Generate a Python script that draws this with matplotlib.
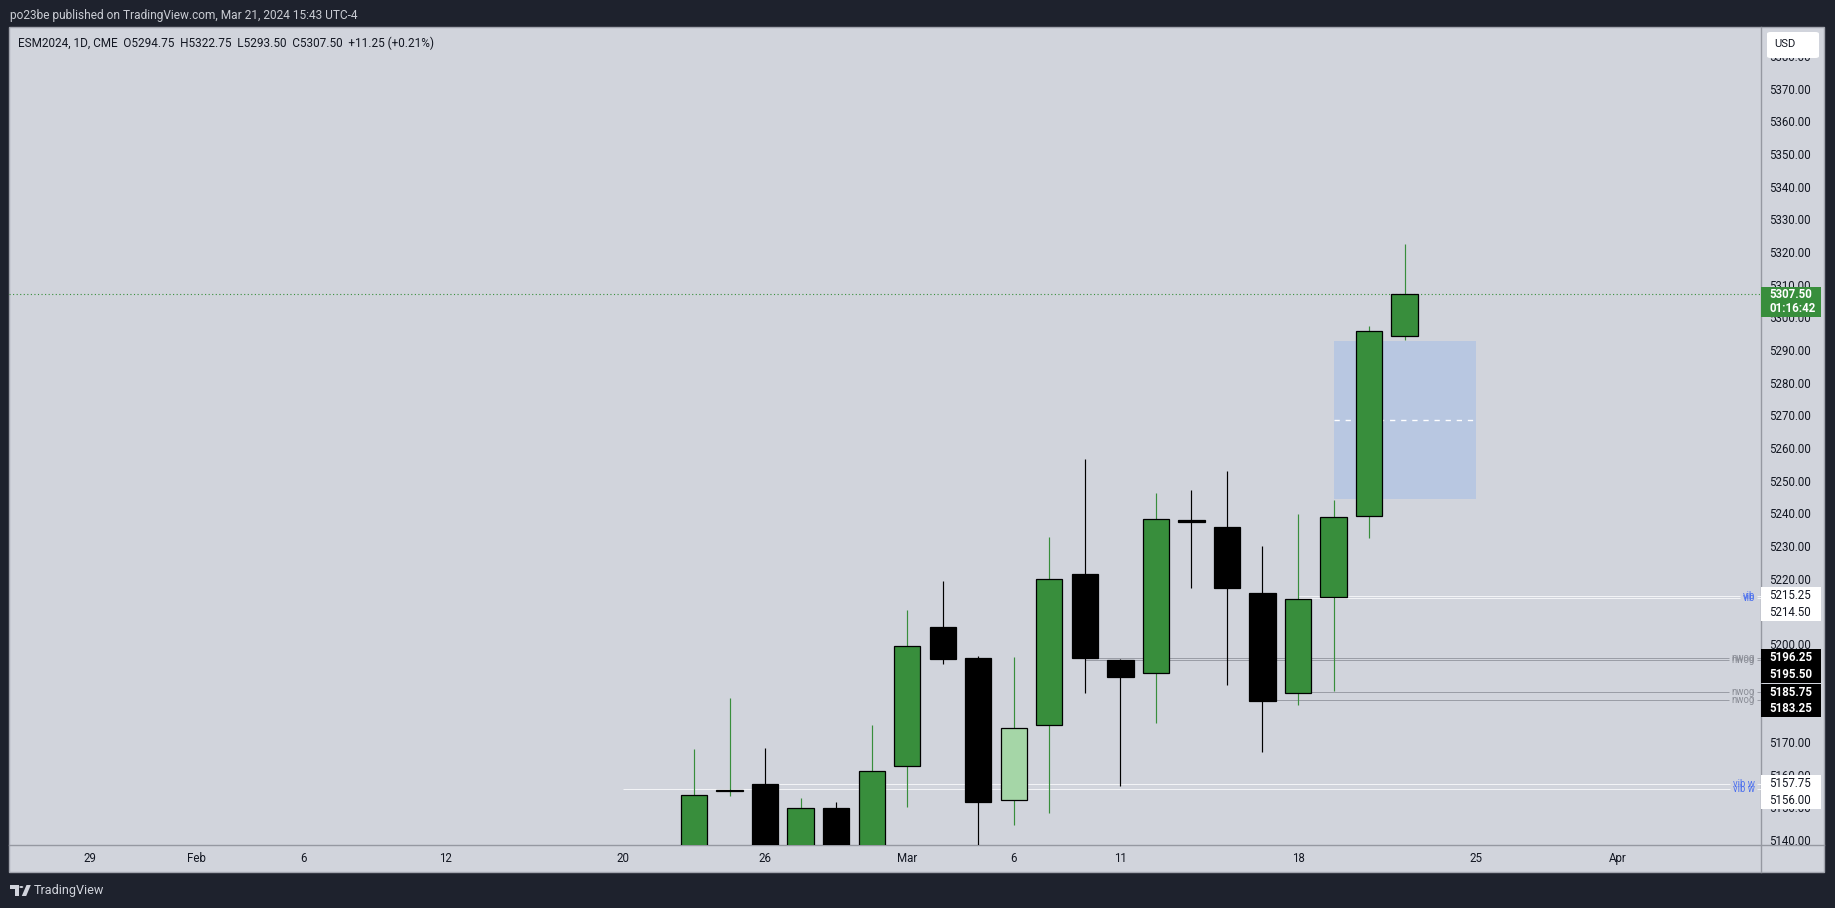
import matplotlib
matplotlib.use("Agg")
import matplotlib.pyplot as plt
from matplotlib.patches import Rectangle, FancyBboxPatch, Polygon, Circle
from matplotlib.lines import Line2D
import pandas as pd

# ---------------- data ----------------
dates = ["2024-02-22", "2024-02-23", "2024-02-26", "2024-02-27", "2024-02-28", "2024-02-29",
         "2024-03-01", "2024-03-04", "2024-03-05", "2024-03-06", "2024-03-07", "2024-03-08",
         "2024-03-11", "2024-03-12", "2024-03-13", "2024-03-14", "2024-03-15", "2024-03-18",
         "2024-03-19", "2024-03-20", "2024-03-21"]
opens = [5128.00, 5155.50, 5157.75, 5132.00, 5150.25, 5133.00,
         5163.25, 5205.75, 5196.25, 5152.75, 5175.75, 5221.75,
         5195.50, 5191.50, 5238.50, 5236.25, 5216.00, 5185.50,
         5215.00, 5239.50, 5294.75]
highs = [5168.50, 5184.00, 5168.75, 5153.50, 5152.25, 5175.75,
         5211.00, 5219.75, 5196.75, 5196.50, 5233.25, 5257.00,
         5196.00, 5246.75, 5247.50, 5253.50, 5230.50, 5240.25,
         5244.50, 5297.75, 5322.75]
lows = [5120.00, 5154.00, 5125.00, 5128.00, 5126.00, 5128.00,
        5150.50, 5194.25, 5120.00, 5145.00, 5148.75, 5185.50,
        5157.00, 5176.25, 5217.50, 5188.00, 5167.50, 5181.75,
        5186.00, 5233.00, 5293.50]
closes = [5154.25, 5155.75, 5130.00, 5150.25, 5133.00, 5161.50,
          5200.00, 5196.00, 5152.00, 5174.75, 5220.25, 5196.25,
          5190.50, 5238.75, 5237.75, 5217.50, 5183.00, 5214.25,
          5239.25, 5296.25, 5307.50]
highlight_dates = ["2024-03-06"]

level_prices = [5215.25, 5214.50, 5196.25, 5195.50, 5185.75, 5183.25, 5157.75, 5156.00]
level_tags = ["vib", "vib", "nwog", "nwog", "nwog", "nwog", "vib w", "vib w"]
level_from = ["2024-03-18", "2024-03-18", "2024-03-08", "2024-03-08",
              "2024-03-18", "2024-03-15", "2024-02-26", "2024-02-20"]

zone_from, zone_to = "2024-03-19", "2024-03-25"
zone_top, zone_bottom = 5293.25, 5244.75

last_price = 5307.50
countdown = "01:16:42"

price_ticks = list(range(5140, 5390, 10))
time_tick_dates = ["2024-01-29", "2024-02-01", "2024-02-06", "2024-02-12", "2024-02-20", "2024-02-26",
                   "2024-03-01", "2024-03-06", "2024-03-11", "2024-03-18", "2024-03-25", "2024-04-01"]
time_tick_labels = ["29", "Feb", "6", "12", "20", "26", "Mar", "6", "11", "18", "25", "Apr"]
holidays = ["2024-02-19", "2024-03-29"]

title = "po23be published on TradingView.com, Mar 21, 2024 15:43 UTC-4"
legend = "ESM2024, 1D, CME  O5294.75  H5322.75  L5293.50  C5307.50  +11.25 (+0.21%)"

# ---------------- styling ----------------
plt.rcParams['font.family'] = ['Roboto', 'DejaVu Sans']
W, H = 1835, 908
DARK = '#1e222d'
PANEL = '#d1d4dc'
GREEN = '#388e3c'
LIGHTGREEN = '#a5d6a7'
TXT = '#131722'
SEP = '#9598a1'
BLUE = '#4f72ee'
GRAY = '#8a8d96'

fig = plt.figure(figsize=(W / 100, H / 100), dpi=100, facecolor=DARK)
renderer = fig.canvas.get_renderer()


def fx(px):
    return px / W


def fy(py):
    return 1 - py / H


# trading calendar -> bar index
sessions = [d for d in pd.bdate_range("2024-01-22", "2024-04-19").strftime("%Y-%m-%d") if d not in holidays]
base = sessions.index("2024-01-29")
pos = {d: i - base for i, d in enumerate(sessions)}

PX_PER_BAR = 35.53
X0 = 90.0  # pixel of first labelled bar
xl = ((9 - X0) / PX_PER_BAR, (1761 - X0) / PX_PER_BAR)
PX_PER_PT = 3.268
yl = (5370 - (845 - 90) / PX_PER_PT, 5370 + (90 - 27) / PX_PER_PT)

# panel background
fig.patches.append(Rectangle((fx(9), fy(872)), fx(1824) - fx(9), fy(27) - fy(872),
                             transform=fig.transFigure, facecolor=PANEL, edgecolor='#a3a6af',
                             linewidth=1.0, zorder=-5))

ax = fig.add_axes([fx(9), fy(845), fx(1761) - fx(9), fy(27) - fy(845)])
pax = fig.add_axes([fx(1761), fy(845), fx(1824) - fx(1761), fy(27) - fy(845)])
tax = fig.add_axes([fx(9), fy(872), fx(1761) - fx(9), fy(845) - fy(872)])
for a in (ax, pax, tax):
    a.set_facecolor('none')
    a.set_xticks([])
    a.set_yticks([])
    for s in a.spines.values():
        s.set_visible(False)
ax.set_xlim(*xl)
ax.set_ylim(*yl)
pax.set_xlim(0, 1)
pax.set_ylim(*yl)
tax.set_xlim(*xl)
tax.set_ylim(0, 1)

# separators
fig.lines.append(Line2D([fx(9), fx(1824)], [fy(845), fy(845)], transform=fig.transFigure,
                        color=SEP, lw=1.0, zorder=-1))
fig.lines.append(Line2D([fx(1761), fx(1761)], [fy(27), fy(872)], transform=fig.transFigure,
                        color=SEP, lw=1.0, zorder=-1))

# zone
zx0, zx1 = pos[zone_from], pos[zone_to]
ax.add_patch(Rectangle((zx0, zone_bottom), zx1 - zx0, zone_top - zone_bottom,
                       facecolor='#b8c7e1', edgecolor='none', zorder=1))
ax.plot([zx0, zx1], [(zone_top + zone_bottom) / 2] * 2, color='white', lw=1.0,
        dashes=(3.8, 4.2), zorder=1.5)

# level lines, broken around their right-hand tag
LABEL_RIGHT_PX = 1755 - 9   # pixel offset inside the plot area
for p, tag, d in zip(level_prices, level_tags, level_from):
    is_vib = tag.startswith('vib')
    lc = '#f2f3f6' if is_vib else '#9a9da6'
    t = ax.text(LABEL_RIGHT_PX / 1752, p, tag, transform=ax.get_yaxis_transform(), ha='right',
                va='center', fontsize=6.9, color=(BLUE if is_vib else GRAY), zorder=2.5)
    wpx = t.get_window_extent(renderer=renderer).width
    x_gap_left = xl[0] + (LABEL_RIGHT_PX - wpx - 3) / PX_PER_BAR
    x_gap_right = xl[0] + (LABEL_RIGHT_PX + 2) / PX_PER_BAR
    ax.plot([pos[d], x_gap_left], [p, p], color=lc, lw=0.72, zorder=2, solid_capstyle='butt')
    ax.plot([x_gap_right, xl[1]], [p, p], color=lc, lw=0.72, zorder=2, solid_capstyle='butt')

# last price dotted
ax.plot([xl[0], xl[1]], [last_price, last_price], color=GREEN, lw=0.8,
        linestyle=(0, (1, 2.2)), zorder=2)

# candles
for d, o, h, l, c in zip(dates, opens, highs, lows, closes):
    x = pos[d]
    up = c >= o
    body = LIGHTGREEN if d in highlight_dates else (GREEN if up else 'black')
    wick = GREEN if up else 'black'
    ax.plot([x, x], [l, h], color=wick, lw=0.85, zorder=3, solid_capstyle='butt')
    ax.add_patch(Rectangle((x - 0.37, min(o, c)), 0.74, max(abs(c - o), 0.05),
                           facecolor=body, edgecolor='black', lw=0.9, zorder=4))

# level price boxes (pushed apart like the price scale does)
BOX_H = 16.8 / PX_PER_PT
order = sorted(range(len(level_prices)), key=lambda i: -level_prices[i])
prev = None
boxes = []
for i in order:
    p = level_prices[i]
    disp = p if prev is None or prev - p >= BOX_H else prev - BOX_H
    prev = disp
    boxes.append((i, disp))
top = last_price + 7.6 / PX_PER_PT
bot = last_price - 22.4 / PX_PER_PT
covered = [(d - BOX_H / 2, d + BOX_H / 2) for _, d in boxes] + [(bot, top)]

# price scale ticks (labels fully hidden behind a box are not drawn)
TICK_FS = 8.3
half = 4.5 / PX_PER_PT
for p in price_ticks:
    if any(lo <= p - half and p + half <= hi for lo, hi in covered):
        continue
    pax.text(0.13, p, f"{p:.2f}", ha='left', va='center', fontsize=TICK_FS, color=TXT,
             zorder=2, clip_on=True)

for i, disp in boxes:
    p = level_prices[i]
    is_vib = level_tags[i].startswith('vib')
    fc = 'white' if is_vib else 'black'
    tc = TXT if is_vib else 'white'
    pax.add_patch(Rectangle((0.0, disp - BOX_H / 2), 0.948, BOX_H, facecolor=fc,
                            edgecolor='none', zorder=5))
    pax.text(0.13, disp, f"{p:.2f}", ha='left', va='center', fontsize=TICK_FS, color=tc,
             zorder=6, fontweight=('normal' if is_vib else 'bold'))

# last price box
pax.add_patch(Rectangle((0.0, bot), 0.948, top - bot, facecolor=GREEN, edgecolor='none', zorder=5))
pax.text(0.13, last_price, f"{last_price:.2f}", ha='left', va='center', fontsize=TICK_FS,
         color='white', fontweight='bold', zorder=6)
pax.text(0.13, last_price - 14.3 / PX_PER_PT, countdown, ha='left', va='center', fontsize=TICK_FS,
         color='white', fontweight='bold', zorder=6)

# time axis labels
for d, lab in zip(time_tick_dates, time_tick_labels):
    tax.text(pos[d], 0.5, lab, ha='center', va='center', fontsize=TICK_FS, color=TXT)

# USD box
fig.patches.append(FancyBboxPatch((fx(1767), fy(58)), fx(1819) - fx(1767), fy(32) - fy(58),
                                  boxstyle="round,pad=0.0,rounding_size=0.002",
                                  transform=fig.transFigure, facecolor='white', edgecolor='none',
                                  zorder=10))
fig.text(fx(1774), fy(44), "USD", ha='left', va='center', fontsize=8.0, color=TXT, zorder=11)


# header and legend
def fit(t, target):
    w = t.get_window_extent(renderer=renderer).width
    t.set_fontsize(t.get_fontsize() * target / w)


t1 = fig.text(fx(9.6), fy(15), title, ha='left', va='center', fontsize=10, color='#c9ccd3')
fit(t1, 350)
t2 = fig.text(fx(18.4), fy(43.3), legend, ha='left', va='center', fontsize=10, color=TXT)
fit(t2, 416)


# footer logo + name
def P(px, py):
    return (fx(px), fy(py))


fig.patches.append(Polygon([P(10, 885), P(18.5, 885), P(18.5, 896), P(14.8, 896), P(14.8, 889), P(10, 889)],
                           closed=True, transform=fig.transFigure, facecolor='#d1d4dc', edgecolor='none'))
fig.patches.append(Circle(P(21.3, 887), radius=2.0 / W, transform=fig.transFigure,
                          facecolor='#d1d4dc', edgecolor='none'))
fig.patches.append(Polygon([P(26.5, 885), P(30.8, 885), P(26.2, 896), P(21.8, 896)],
                           closed=True, transform=fig.transFigure, facecolor='#d1d4dc', edgecolor='none'))
t3 = fig.text(fx(33.3), fy(890.7), "TradingView", ha='left', va='center', fontsize=10, color='#d1d4dc')
fit(t3, 70)

fig.savefig("out.png", dpi=100, facecolor=DARK)
